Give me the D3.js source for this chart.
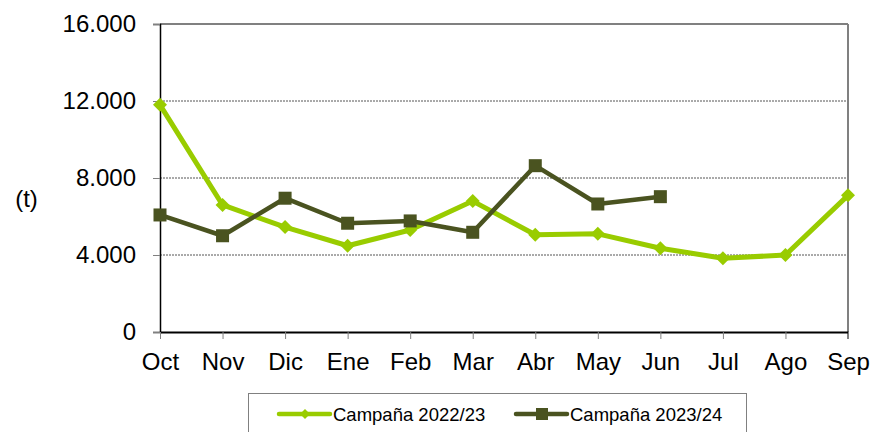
<!DOCTYPE html>
<html lang="es">
<head>
<meta charset="UTF-8">
<title>Campañas 2022/23 y 2023/24</title>
<script src="https://d3js.org/d3.v7.min.js"></script>
<style>
    body { margin: 0; background: #fff; font-family: "Liberation Sans", Arial, sans-serif; }
    .tick text { font-size: 24px; fill: #000; font-family: "Liberation Sans", Arial, sans-serif; }
    .legend text { font-size: 18.5px; fill: #000; font-family: "Liberation Sans", Arial, sans-serif; }
</style>
</head>
<body>
<div id="chart"></div>
<script>
    const months = ["Oct", "Nov", "Dic", "Ene", "Feb", "Mar", "Abr", "May", "Jun", "Jul", "Ago", "Sep"];
    const camp2223 = [11800, 6600, 5450, 4480, 5300, 6800, 5050, 5100, 4350, 3830, 4000, 7100];
    const camp2324 = [6080, 5000, 6950, 5650, 5770, 5180, 8640, 6650, 7030];
    const yTicks = [0, 4000, 8000, 12000, 16000];

    const width = 874, height = 432;
    const plotLeft = 160, plotRight = 848, plotTop = 24, plotBottom = 332;

    const svg = d3.select("#chart").append("svg")
        .attr("width", width)
        .attr("height", height);

    const x = d3.scalePoint().domain(months).range([plotLeft, plotRight]);
    const y = d3.scaleLinear().domain([0, 16000]).range([plotBottom, plotTop]);
    const fmt = d => d3.format(",")(d).replace(/,/g, ".");

    // dotted gridlines
    svg.append("g")
        .selectAll("line")
        .data(yTicks.filter(d => d > 0 && d < 16000))
        .join("line")
        .attr("x1", plotLeft).attr("x2", plotRight)
        .attr("y1", d => y(d)).attr("y2", d => y(d))
        .attr("stroke", "#555")
        .attr("stroke-width", 1)
        .attr("stroke-dasharray", "2,1");

    // top and right frame
    svg.append("line")
        .attr("x1", plotLeft).attr("x2", plotRight)
        .attr("y1", y(16000)).attr("y2", y(16000))
        .attr("stroke", "#808080").attr("stroke-width", 2);
    svg.append("line")
        .attr("x1", plotRight).attr("x2", plotRight)
        .attr("y1", plotTop).attr("y2", plotBottom + 7)
        .attr("stroke", "#808080").attr("stroke-width", 2);

    // y axis
    const yAxis = svg.append("g")
        .attr("transform", `translate(${plotLeft},0)`)
        .call(d3.axisLeft(y).tickValues(yTicks).tickFormat(fmt).tickSize(7).tickPadding(17));
    yAxis.select(".domain").attr("stroke", "#000").attr("stroke-width", 1.5);
    yAxis.selectAll(".tick line").attr("stroke", "#808080");

    // x axis
    const xAxis = svg.append("g")
        .attr("transform", `translate(0,${plotBottom})`)
        .call(d3.axisBottom(x).tickSize(7).tickSizeOuter(0).tickPadding(14));
    xAxis.select(".domain").attr("stroke", "#000").attr("stroke-width", 2);
    xAxis.selectAll(".tick line").attr("stroke", "#808080");

    svg.append("text")
        .attr("x", 26.5).attr("y", 207)
        .attr("text-anchor", "middle")
        .attr("font-size", 24)
        .text("(t)");

    const line = d3.line()
        .x((d, i) => x(months[i]))
        .y(d => y(d));

    const light = "#99CC00", dark = "#4A5320";

    svg.append("path")
        .datum(camp2223)
        .attr("d", line)
        .attr("fill", "none")
        .attr("stroke", light)
        .attr("stroke-width", 5)
        .attr("stroke-linejoin", "round");

    svg.append("g")
        .selectAll("path")
        .data(camp2223)
        .join("path")
        .attr("transform", (d, i) => `translate(${x(months[i])},${y(d)})`)
        .attr("d", "M0,-7L7,0L0,7L-7,0Z")
        .attr("fill", light);

    svg.append("path")
        .datum(camp2324)
        .attr("d", line)
        .attr("fill", "none")
        .attr("stroke", dark)
        .attr("stroke-width", 4.5)
        .attr("stroke-linejoin", "round");

    svg.append("g")
        .selectAll("rect")
        .data(camp2324)
        .join("rect")
        .attr("x", (d, i) => x(months[i]) - 6.5)
        .attr("y", d => y(d) - 6.5)
        .attr("width", 13)
        .attr("height", 13)
        .attr("fill", dark);

    // legend
    const legend = svg.append("g").attr("class", "legend");
    legend.append("rect")
        .attr("x", 248.5).attr("y", 393.5)
        .attr("width", 498).attr("height", 50)
        .attr("fill", "#fff")
        .attr("stroke", "#808080");

    const items = [
        { name: "Campaña 2022/23", color: light, x0: 279, marker: "diamond" },
        { name: "Campaña 2023/24", color: dark, x0: 516, marker: "square" }
    ];
    const ly = 414;
    items.forEach(it => {
        legend.append("line")
            .attr("x1", it.x0).attr("x2", it.x0 + 51)
            .attr("y1", ly).attr("y2", ly)
            .attr("stroke", it.color).attr("stroke-width", 4.5)
            .attr("stroke-linecap", "round");
        if (it.marker === "diamond") {
            legend.append("path")
                .attr("transform", `translate(${it.x0 + 26},${ly})`)
                .attr("d", "M0,-5L5,0L0,5L-5,0Z")
                .attr("fill", it.color);
        } else {
            legend.append("rect")
                .attr("x", it.x0 + 20).attr("y", ly - 6)
                .attr("width", 12).attr("height", 12)
                .attr("fill", it.color);
        }
        legend.append("text")
            .attr("x", it.x0 + 54).attr("y", ly + 6.5)
            .text(it.name);
    });
</script>
</body>
</html>
